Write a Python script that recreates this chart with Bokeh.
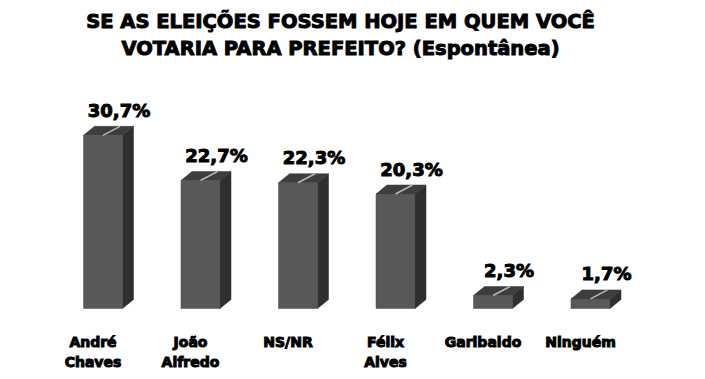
from bokeh.plotting import figure
from bokeh.models import Range1d, Label, ColumnDataSource
from bokeh.core.properties import value
from bokeh.embed import file_html
from bokeh.resources import INLINE

# ---- data ----
categories = ["André\nChaves", "João\nAlfredo", "NS/NR", "Félix\nAlves", "Garibaldo", "Ninguém"]
values = [30.7, 22.7, 22.3, 20.3, 2.3, 1.7]
value_labels = ["30,7%", "22,7%", "22,3%", "20,3%", "2,3%", "1,7%"]
title_lines = ["SE AS ELEIÇÕES FOSSEM HOJE EM QUEM VOCÊ", "VOTARIA PARA PREFEITO? (Espontânea)"]

# ---- layout constants ----
W, H = 705, 379
PX_X = 97.5      # pixels per category
PX_Y = 5.64      # pixels per percent
X0 = 102.5       # pixel position of first category
BASE = 308       # pixel position (from top) of baseline
FONT = "DejaVu Sans"

xs = list(range(len(values)))
half = 0.2
dx = 11 / PX_X
dy = 9 / PX_Y

p = figure(width=W, height=H, output_backend="svg", toolbar_location=None,
           x_range=Range1d(-X0 / PX_X, (W - X0) / PX_X),
           y_range=Range1d(-(H - BASE) / PX_Y, BASE / PX_Y),
           x_axis_location=None, y_axis_location=None, min_border=0)
p.grid.visible = False
p.outline_line_color = None
p.background_fill_color = "white"
p.border_fill_color = "white"

# side faces
side_xs = [[x + half, x + half + dx, x + half + dx, x + half] for x in xs]
side_ys = [[0, dy, v + dy, v] for v in values]
p.patches(side_xs, side_ys, fill_color="#2f2f2f", line_color="#2a2a2a", line_width=0.5)

# top faces
top_xs = [[x - half, x + half, x + half + dx, x - half + dx] for x in xs]
top_ys = [[v, v, v + dy, v + dy] for v in values]
p.patches(top_xs, top_ys, fill_color="#3d3d3d", line_color="#383838", line_width=0.5)

# front faces
src = ColumnDataSource(dict(x=xs, top=values, lab=value_labels,
                            l1=[c.split("\n")[0] for c in categories],
                            l2=[c.split("\n")[1] if "\n" in c else "" for c in categories]))
p.vbar(x="x", top="top", bottom=0, width=2 * half, source=src,
       fill_color="#585858", line_color="#4a4a4a", line_width=0.5)

# leader lines
p.segment(x0=xs, y0=values, x1=[x + 17 / PX_X for x in xs], y1=[v + dy for v in values],
          line_color="#b8b8b8", line_width=1.5)

# value labels
p.text(x="x", y="top", text="lab", source=src, x_offset=16, y_offset=-25,
       text_align="center", text_baseline="alphabetic",
       text_font=value(FONT), text_font_style="bold", text_font_size="18px", text_color="black",
       text_outline_color="black")

# category labels
for col, off in (("l1", 33), ("l2", 53)):
    p.text(x="x", y=0, text=col, source=src, x_offset=-10, y_offset=off,
           text_align="center", text_baseline="alphabetic",
           text_font=value(FONT), text_font_style="bold", text_font_size="14px",
           text_color="black", text_outline_color="black")

# title
for i, t in enumerate(title_lines):
    p.add_layout(Label(x=340, y=H - 21 - 27 * i, x_units="screen", y_units="screen", text=t,
                       text_align="center", text_baseline="alphabetic",
                       text_font=FONT, text_font_style="bold", text_font_size="19.5px",
                       text_color="black", text_outline_color="black"))

open("out.html", "w").write(file_html(p, INLINE))
